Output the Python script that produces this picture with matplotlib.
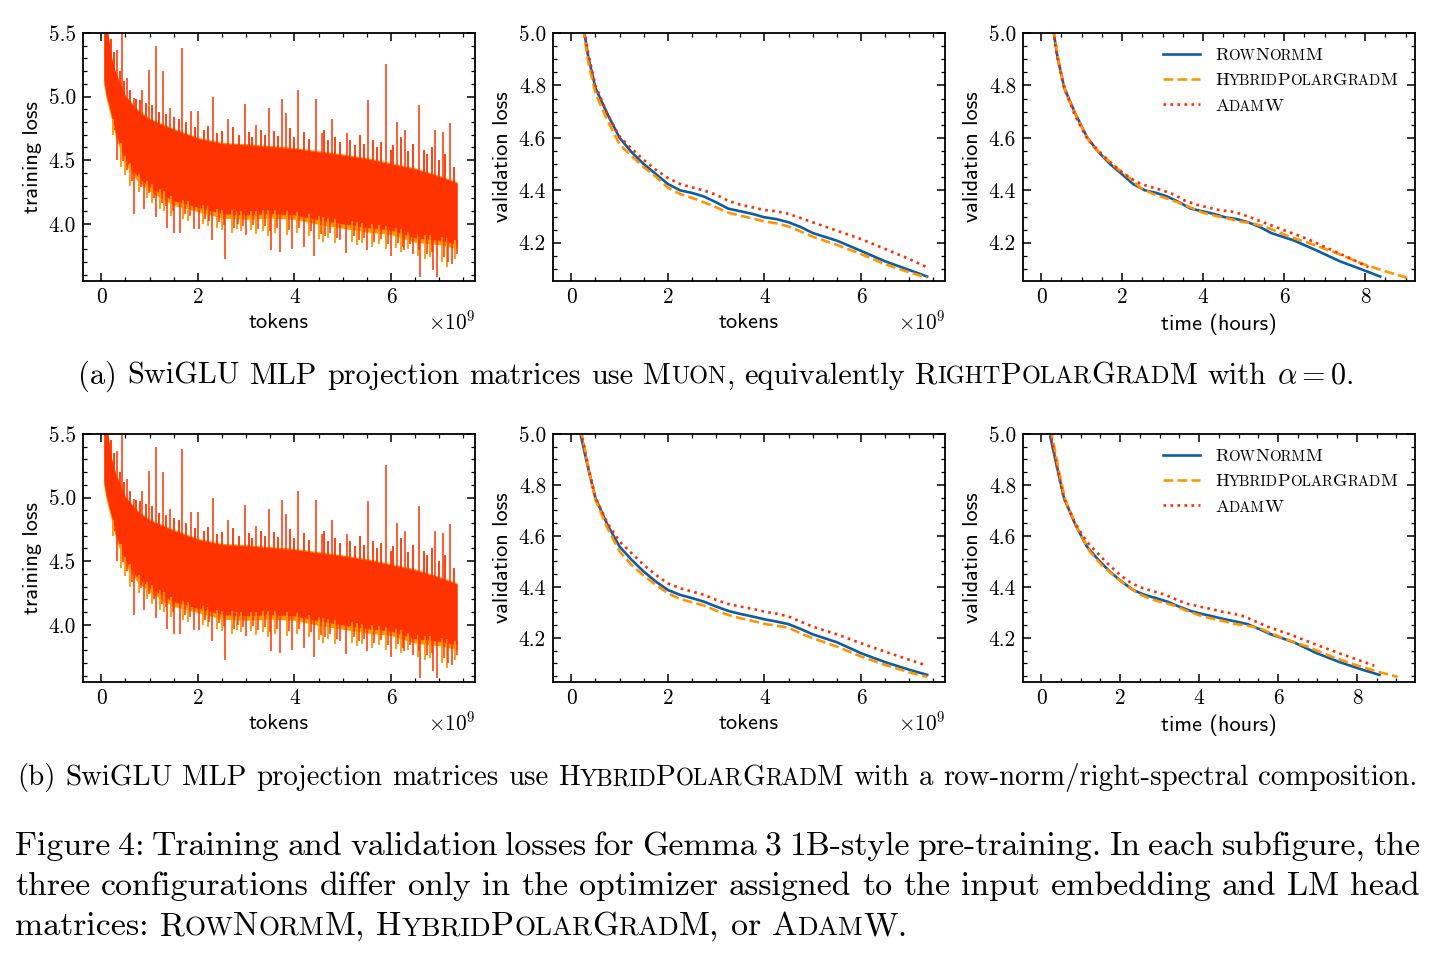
import numpy as np
import matplotlib
matplotlib.use('Agg')
import matplotlib.pyplot as plt
from matplotlib.ticker import MultipleLocator, FormatStrFormatter
from matplotlib.transforms import IdentityTransform

plt.rcParams.update({
    'font.family': 'cmr10',
    'mathtext.fontset': 'cm',
    'axes.formatter.use_mathtext': True,
    'axes.unicode_minus': False,
    'axes.linewidth': 1.3,
    'xtick.direction': 'in', 'ytick.direction': 'in',
    'xtick.top': True, 'ytick.right': True,
    'xtick.major.size': 6, 'ytick.major.size': 6,
    'xtick.minor.size': 3, 'ytick.minor.size': 3,
    'xtick.major.width': 1.1, 'ytick.major.width': 1.1,
    'xtick.minor.width': 0.9, 'ytick.minor.width': 0.9,
    'xtick.major.pad': 5, 'ytick.major.pad': 5,
    'xtick.labelsize': 15.3, 'ytick.labelsize': 15.3,
    'legend.frameon': False,
})

# colores (estilo science)
C_ROW = '#0C5DA5'
C_HYB = '#FF9500'
C_ADAM = '#FF2C00'
C_BAND = '#FF3300'

# ---------------- datos ----------------
# training loss: banda de ruido (x en 1e9 tokens)
TRAIN_X = [0.05, 0.1, 0.2, 0.3, 0.5, 0.75, 1.0, 1.5, 2.0, 2.5, 3.0, 3.5,
           4.0, 4.5, 5.0, 5.5, 6.0, 6.5, 7.0, 7.37]
TRAIN_HI = [5.6, 5.6, 5.32, 5.18, 5.0, 4.89, 4.82, 4.74, 4.67, 4.63, 4.62,
            4.605, 4.59, 4.565, 4.54, 4.51, 4.47, 4.43, 4.37, 4.32]
TRAIN_LO = [5.13, 5.02, 4.87, 4.71, 4.5, 4.37, 4.29, 4.18, 4.13, 4.08, 4.07,
            4.08, 4.07, 4.03, 4.0, 3.97, 3.95, 3.89, 3.87, 3.84]

# picos grandes
SPIKE_UP_X = [0.32, 0.43, 0.54, 0.67, 0.84, 0.98, 1.14, 1.27, 1.43, 1.68, 1.85,
              2.01, 2.31, 2.63, 2.98, 3.21, 3.48, 3.75, 3.83, 4.08, 4.45, 4.57,
              4.77, 5.08, 5.53, 5.90, 6.13, 6.28, 6.58, 6.91, 7.07, 7.22]
SPIKE_UP_Y = [5.37, 5.49, 5.15, 4.99, 5.05, 5.21, 5.40, 5.20, 4.91, 5.38, 4.89,
              4.89, 5.00, 4.82, 4.94, 4.78, 4.91, 4.98, 4.87, 5.05, 4.98, 4.71,
              4.82, 4.71, 4.97, 5.26, 4.80, 4.74, 4.93, 4.74, 4.72, 4.79]
SPIKE_DN_X = [0.32, 0.68, 0.88, 1.14, 1.36, 1.51, 1.63, 1.91, 2.03, 2.29, 2.57,
              2.99, 3.51, 3.70, 3.94, 4.19, 4.41, 4.94, 5.07, 5.50, 5.99, 6.26,
              6.46, 6.61, 6.88, 6.96, 7.26]
SPIKE_DN_Y = [4.50, 4.08, 4.12, 4.05, 3.97, 3.93, 3.93, 3.96, 3.96, 3.87, 3.72,
              3.91, 3.79, 3.78, 3.80, 3.82, 3.75, 3.87, 3.77, 3.79, 3.75, 3.79,
              3.76, 3.58, 3.64, 3.58, 3.68]

# picos menores (borde irregular de la banda)
FRINGE_UP_X = [0.2, 0.26, 0.38, 0.47, 0.6, 0.72, 0.8, 0.92, 1.05, 1.2, 1.33, 1.5,
               1.6, 1.76, 1.95, 2.12, 2.2, 2.4, 2.5, 2.72, 2.85, 3.05, 3.12, 3.3,
               3.4, 3.58, 3.65, 3.9, 4.0, 4.2, 4.3, 4.62, 4.7, 4.85, 4.95, 5.15,
               5.25, 5.35, 5.45, 5.62, 5.7, 5.8, 6.0, 6.05, 6.2, 6.35, 6.45, 6.68,
               6.75, 6.85, 7.0, 7.12, 7.3]
FRINGE_UP_Y = [5.45, 5.35, 5.2, 5.12, 5.05, 4.98, 4.97, 4.95, 4.93, 4.88, 4.86, 4.84,
               4.82, 4.80, 4.76, 4.74, 4.77, 4.71, 4.73, 4.76, 4.70, 4.72, 4.68, 4.74,
               4.70, 4.73, 4.69, 4.75, 4.68, 4.72, 4.67, 4.74, 4.66, 4.68, 4.64, 4.66,
               4.62, 4.70, 4.63, 4.66, 4.60, 4.64, 4.58, 4.62, 4.68, 4.57, 4.63, 4.58,
               4.55, 4.60, 4.50, 4.55, 4.45]
FRINGE_DN_X = [0.25, 0.4, 0.5, 0.6, 0.78, 0.95, 1.05, 1.22, 1.3, 1.45, 1.7, 1.8,
               2.1, 2.2, 2.4, 2.5, 2.7, 2.8, 2.9, 3.1, 3.2, 3.35, 3.45, 3.6, 3.85,
               4.05, 4.3, 4.5, 4.6, 4.7, 4.85, 5.2, 5.3, 5.4, 5.6, 5.75, 5.9, 6.1,
               6.2, 6.35, 6.55, 6.7, 6.8, 7.05, 7.15, 7.33]
FRINGE_DN_Y = [4.7, 4.45, 4.38, 4.3, 4.25, 4.2, 4.16, 4.12, 4.1, 4.06, 4.04, 4.02,
               4.0, 3.98, 3.97, 3.95, 3.93, 3.96, 3.94, 3.95, 3.92, 3.94, 3.9, 3.93,
               3.91, 3.93, 3.9, 3.88, 3.86, 3.89, 3.85, 3.86, 3.83, 3.85, 3.82, 3.84,
               3.80, 3.81, 3.78, 3.80, 3.75, 3.72, 3.74, 3.70, 3.66, 3.72]

# validation loss (x en 1e9 tokens)
TOK = [0.2, 0.35, 0.5, 0.75, 1.0, 1.25, 1.5, 1.75, 2.0, 2.25, 2.5, 2.75, 3.0,
       3.25, 3.5, 3.75, 4.0, 4.25, 4.5, 4.75, 5.0, 5.5, 6.0, 6.5, 7.0, 7.37]

A_ROW = [5.08, 4.91, 4.79, 4.69, 4.60, 4.545, 4.50, 4.462, 4.424, 4.40, 4.39,
         4.376, 4.354, 4.33, 4.32, 4.31, 4.297, 4.29, 4.278, 4.26, 4.237, 4.208,
         4.169, 4.129, 4.096, 4.071]
A_HYB = [5.07, 4.89, 4.77, 4.665, 4.575, 4.53, 4.488, 4.452, 4.41, 4.386, 4.371,
         4.354, 4.335, 4.315, 4.303, 4.293, 4.281, 4.274, 4.262, 4.243, 4.223,
         4.192, 4.157, 4.118, 4.087, 4.067]
A_ADAM = [5.09, 4.92, 4.80, 4.69, 4.605, 4.558, 4.516, 4.478, 4.447, 4.424, 4.411,
          4.399, 4.383, 4.36, 4.345, 4.335, 4.325, 4.32, 4.31, 4.294, 4.278,
          4.246, 4.214, 4.176, 4.138, 4.106]

B_ROW = [4.99, 4.865, 4.748, 4.643, 4.558, 4.506, 4.46, 4.421, 4.388, 4.369,
         4.356, 4.342, 4.323, 4.306, 4.294, 4.284, 4.273, 4.264, 4.254, 4.235,
         4.214, 4.183, 4.14, 4.105, 4.075, 4.055]
B_HYB = [5.02, 4.87, 4.741, 4.63, 4.539, 4.486, 4.444, 4.408, 4.375, 4.353, 4.34,
         4.327, 4.307, 4.29, 4.277, 4.267, 4.255, 4.248, 4.24, 4.218, 4.199,
         4.166, 4.127, 4.094, 4.065, 4.047]
B_ADAM = [5.01, 4.87, 4.75, 4.65, 4.578, 4.532, 4.486, 4.447, 4.414, 4.395, 4.382,
          4.369, 4.349, 4.333, 4.323, 4.314, 4.303, 4.295, 4.284, 4.264, 4.244,
          4.214, 4.179, 4.146, 4.114, 4.091]

# tiempo de reloj (horas) en los mismos puntos de validación
A_ROW_H = [0.23, 0.40, 0.57, 0.85, 1.14, 1.42, 1.70, 1.99, 2.27, 2.56, 2.84, 3.12,
           3.41, 3.69, 3.98, 4.26, 4.54, 4.83, 5.11, 5.40, 5.68, 6.25, 6.82, 7.38,
           7.95, 8.37]
HYB_H = [0.245, 0.43, 0.61, 0.92, 1.23, 1.53, 1.84, 2.14, 2.45, 2.76, 3.06, 3.37,
         3.68, 3.98, 4.29, 4.59, 4.90, 5.21, 5.51, 5.82, 6.13, 6.74, 7.35, 7.96,
         8.58, 9.03]
A_ADAM_H = [0.22, 0.38, 0.55, 0.82, 1.10, 1.37, 1.64, 1.92, 2.19, 2.47, 2.74, 3.01,
            3.29, 3.56, 3.84, 4.11, 4.38, 4.66, 4.93, 5.21, 5.48, 6.03, 6.58, 7.12,
            7.67, 8.08]
B_ROW_H = [0.23, 0.41, 0.58, 0.87, 1.16, 1.45, 1.74, 2.04, 2.33, 2.62, 2.91, 3.20,
           3.49, 3.78, 4.07, 4.36, 4.65, 4.94, 5.23, 5.52, 5.82, 6.40, 6.98, 7.56,
           8.14, 8.57]
B_ADAM_H = [0.23, 0.40, 0.57, 0.86, 1.15, 1.43, 1.72, 2.00, 2.29, 2.58, 2.86, 3.15,
            3.44, 3.72, 4.01, 4.29, 4.58, 4.87, 5.15, 5.44, 5.73, 6.30, 6.87, 7.44,
            8.02, 8.44]

LEG_LABELS = ['{RowNormM}', '{HybridPolarGradM}', '{AdamW}']

CAP_A = '(a) SwiGLU MLP projection matrices use {Muon}, equivalently {RightPolarGradM} with $\\alpha=0$.'
CAP_B = '(b) SwiGLU MLP projection matrices use {HybridPolarGradM} with a row-norm/right-spectral composition.'
FIG_CAP = ['Figure 4: Training and validation losses for Gemma 3 1B-style pre-training. In each subfigure, the',
           'three configurations differ only in the optimizer assigned to the input embedding and LM head',
           'matrices: {RowNormM}, {HybridPolarGradM}, or {AdamW}.']

# ---------------- figura ----------------
W, H = 1440, 960
fig = plt.figure(figsize=(W / 100, H / 100), dpi=100)
rend = fig.canvas.get_renderer()
SC = 0.8


def ancho(s, size):
    # avance del texto: se mide entre dos "H" para no depender de la tinta
    def w(txt):
        t = fig.text(0, 0, txt, fontsize=size, family='cmr10')
        v = t.get_window_extent(rend).width
        t.remove()
        return v
    return w('H' + s + 'H') - w('HH')


def trozos(palabra):
    if '$' in palabra:
        return [(palabra, 1.0)]
    out = []
    sc = False
    for ch in palabra:
        if ch == '{':
            sc = True
            continue
        if ch == '}':
            sc = False
            continue
        k = SC if (sc and ch.islower()) else 1.0
        s = ch.upper() if k != 1.0 else ch
        if out and out[-1][1] == k:
            out[-1] = (out[-1][0] + s, k)
        else:
            out.append((s, k))
    return out


def medir(texto, size):
    palabras = [trozos(p) for p in texto.split(' ')]
    anchos = [sum(ancho(s, size * k) for s, k in p) for p in palabras]
    esp = 0.333 * size * 100 / 72
    return palabras, anchos, esp


def linea_rica(texto, x, y, size, modo='left', x1=None):
    # x, y en pixeles de pantalla (origen abajo); y es la linea base
    palabras, anchos, esp = medir(texto, size)
    total = sum(anchos) + esp * (len(palabras) - 1)
    if modo == 'justify':
        esp = (x1 - x - sum(anchos)) / (len(palabras) - 1)
    elif modo == 'center':
        x = x - total / 2
    for p, w in zip(palabras, anchos):
        xx = x
        for s, k in p:
            fig.text(xx, y, s, fontsize=size * k, family='cmr10', ha='left',
                     va='baseline', transform=IdentityTransform())
            xx += ancho(s, size * k)
        x += w + esp


def ancho_total(texto, size):
    palabras, anchos, esp = medir(texto, size)
    return sum(anchos) + esp * (len(palabras) - 1)


# tamaños de letra ajustados al ancho de la referencia
LEG_SIZE = 10 * 182 / ancho_total(LEG_LABELS[1], 10)
CAP_SIZE = 20 * 1277 / ancho_total(CAP_A, 20)
CAP_B_SIZE = 20 * 1403 / ancho_total(CAP_B, 20)
FIG_SIZE = 20 * 893 / ancho_total(FIG_CAP[2], 20)
leg_px = LEG_SIZE * 100 / 72
LEG_SPACING = max(0.2, (26.6 - 0.94 * leg_px) / leg_px)


def axes_at(left, top, w=392, h=248):
    return fig.add_axes([left / W, 1 - (top + h) / H, w / W, h / H])


def estilo(ax, xmaj, xmin, ymaj, ymin, yfmt):
    ax.xaxis.set_major_locator(MultipleLocator(xmaj))
    ax.xaxis.set_minor_locator(MultipleLocator(xmin))
    ax.yaxis.set_major_locator(MultipleLocator(ymaj))
    ax.yaxis.set_minor_locator(MultipleLocator(ymin))
    ax.xaxis.set_major_formatter(FormatStrFormatter('%d'))
    ax.yaxis.set_major_formatter(FormatStrFormatter(yfmt))
    ax.tick_params(which='both', top=True, right=True)


def panel_train(ax):
    x = np.array(TRAIN_X)
    hi = np.array(TRAIN_HI)
    lo = np.array(TRAIN_LO)
    ax.fill_between(x, lo - 0.035, hi + 0.01, color=C_HYB, lw=0)
    fx = np.array(FRINGE_DN_X)
    ax.vlines(fx, FRINGE_DN_Y, np.interp(fx, x, lo) + 0.03, color=C_HYB, lw=1.3)
    ax.fill_between(x, lo, hi, color=C_BAND, lw=0)
    fx = np.array(FRINGE_UP_X)
    ax.vlines(fx, np.interp(fx, x, hi) - 0.03, FRINGE_UP_Y, color=C_BAND, lw=1.3)
    fx = np.array(FRINGE_DN_X) + 0.04
    ax.vlines(fx, np.array(FRINGE_DN_Y) + 0.04, np.interp(fx, x, lo) + 0.03,
              color=C_BAND, lw=1.1)
    ux = np.array(SPIKE_UP_X)
    ax.vlines(ux, np.interp(ux, x, hi) - 0.05, SPIKE_UP_Y, color=C_BAND, lw=1.1)
    dx = np.array(SPIKE_DN_X)
    ax.vlines(dx, SPIKE_DN_Y, np.interp(dx, x, lo) + 0.05, color=C_BAND, lw=1.1)
    ax.set_xlim(-0.38, 7.74)
    ax.set_ylim(3.55, 5.5)
    estilo(ax, 2, 0.5, 0.5, 0.1, '%.1f')
    ax.set_xlabel('tokens', family='cmss10', fontsize=16)
    ax.set_ylabel('training loss', family='cmss10', fontsize=16)
    ax.text(1.0, -0.118, r'$\times 10^{9}$', transform=ax.transAxes,
            ha='right', va='top', fontsize=15.3)


def panel_val(ax, xs, ys, xlim, ylim, xlabel, mag):
    estilos = [(C_ROW, '-'), (C_HYB, '--'), (C_ADAM, ':')]
    lineas = []
    for x, y, (c, ls) in zip(xs, ys, estilos):
        l, = ax.plot(x, y, color=c, ls=ls, lw=1.9)
        lineas.append(l)
    ax.set_xlim(*xlim)
    ax.set_ylim(*ylim)
    estilo(ax, 2, 0.5, 0.2, 0.05, '%.1f')
    ax.set_xlabel(xlabel, family='cmss10', fontsize=16)
    ax.set_ylabel('validation loss', family='cmss10', fontsize=16)
    if mag:
        ax.text(1.0, -0.118, r'$\times 10^{9}$', transform=ax.transAxes,
                ha='right', va='top', fontsize=15.3)
    return lineas


leyendas = []
filas = [
    (33, (A_ROW, A_HYB, A_ADAM), (A_ROW_H, HYB_H, A_ADAM_H), (4.054, 5.0), (-0.45, 9.23)),
    (434, (B_ROW, B_HYB, B_ADAM), (B_ROW_H, HYB_H, B_ADAM_H), (4.027, 5.0), (-0.46, 9.47)),
]
for top, vals, horas, ylim, tlim in filas:
    ax1 = axes_at(83, top)
    panel_train(ax1)
    ax2 = axes_at(553, top)
    panel_val(ax2, [TOK] * 3, vals, (-0.38, 7.74), ylim, 'tokens', True)
    ax3 = axes_at(1023, top)
    lineas = panel_val(ax3, horas, vals, tlim, ylim, 'time (hours)', False)
    leg = ax3.legend(lineas, ['RowNormM', 'HybridPolarGradM', 'AdamW'],
                     loc='upper left', bbox_to_anchor=(0.357, 0.942),
                     borderaxespad=0, borderpad=0, fontsize=LEG_SIZE,
                     handlelength=37 / leg_px, handletextpad=15 / leg_px,
                     labelspacing=LEG_SPACING)
    leyendas.append(leg)
    for ax in (ax1, ax2, ax3):
        ax.yaxis.set_label_coords(-0.105, 0.5)

# ---------------- texto con versalitas ----------------
fig.canvas.draw()
rend = fig.canvas.get_renderer()

for leg in leyendas:
    for t, lab in zip(leg.get_texts(), LEG_LABELS):
        bb = t.get_window_extent(rend)
        d = rend.get_text_width_height_descent('lp', t.get_fontproperties(), ismath=False)[2]
        t.set_visible(False)
        linea_rica(lab, bb.x0, bb.y0 + d, LEG_SIZE)

linea_rica(CAP_A, 716.5, H - 384, CAP_SIZE, 'center')
linea_rica(CAP_B, 717.5, H - 785, CAP_B_SIZE, 'center')
linea_rica(FIG_CAP[0], 15, H - 855, FIG_SIZE, 'justify', 1420)
linea_rica(FIG_CAP[1], 15, H - 895, FIG_SIZE, 'justify', 1420)
linea_rica(FIG_CAP[2], 15, H - 935, FIG_SIZE, 'left')

fig.savefig('out.png', dpi=100)
